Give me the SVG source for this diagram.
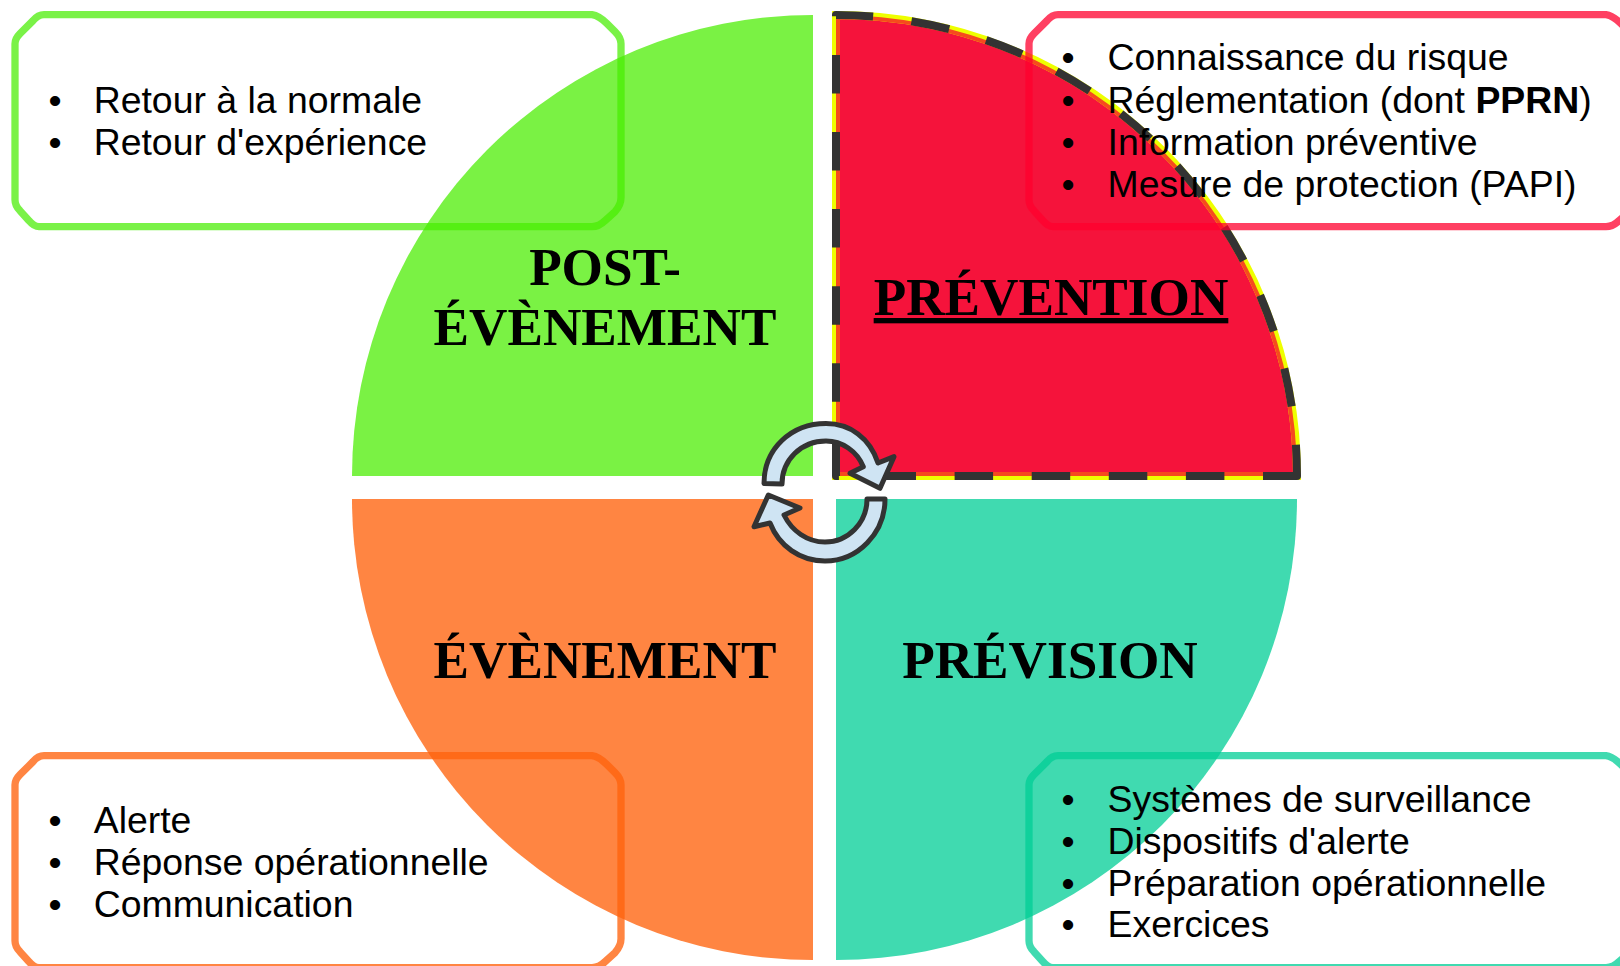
<svg xmlns="http://www.w3.org/2000/svg" width="1620" height="966" viewBox="0 0 1620 966">
<style>
text{font-family:"Liberation Sans",Arial,sans-serif;font-size:37.4px;fill:#000}
.h{font-family:"Liberation Serif","Times New Roman",serif;font-size:53.2px;font-weight:bold;text-anchor:middle}
.box{fill:none;stroke-width:7.3}
.arrow{fill:#cfe4f3;stroke:#333;stroke-width:5;stroke-linejoin:round}
</style>
<defs>
<path id="frame" d="M29,0H577Q584,1 592,9L600,17Q606,23 606,29V183Q606,190 600,197L590,206Q584,212 577,212H24Q19,212 14,206L5,196Q0,191 0,185V29Q0,24 5,19L18,6Q23,0 29,0Z"/>
<path id="redshape" d="M1297,476H836V15A461,461 0 0 1 1297,476Z"/>
<clipPath id="redclip"><use href="#redshape"/></clipPath>
</defs>
<rect width="1620" height="966" fill="#fff"/>
<g id="post-evenement">
<path d="M813,476H352A461,461 0 0 1 813,15Z" fill="#7af244"/>
<use href="#frame" transform="translate(15,14.7)" class="box" stroke="#46ed00" stroke-opacity=".72"/>
<text x="48.5" y="112.7">•</text><text x="93.7" y="112.7">Retour à la normale</text>
<text x="48.5" y="154.7">•</text><text x="93.7" y="154.7">Retour d'expérience</text>
<text class="h" x="605" y="285">POST-</text><text class="h" x="605" y="345">ÉVÈNEMENT</text>
</g>
<g id="prevention">
<use href="#redshape" fill="#f5133b" stroke="#eeff00" stroke-width="8"/>
<use href="#redshape" fill="none" stroke="#f64a1e" stroke-width="8" clip-path="url(#redclip)"/>
<use href="#redshape" fill="none" stroke="#333" stroke-width="8" stroke-dasharray="38.5 38.6" stroke-dashoffset="4.5" stroke-linejoin="round"/>
<use href="#frame" transform="translate(1029,14.7)" class="box" stroke="#ff002d" stroke-opacity=".75"/>
<text x="1061.5" y="69.5">•</text><text x="1107.5" y="69.5">Connaissance du risque</text>
<text x="1061.5" y="112.7">•</text><text x="1107.5" y="112.7">Réglementation (dont <tspan font-weight="bold">PPRN</tspan>)</text>
<text x="1061.5" y="154.7">•</text><text x="1107.5" y="154.7">Information préventive</text>
<text x="1061.5" y="196.5">•</text><text x="1107.5" y="196.5">Mesure de protection (PAPI)</text>
<text class="h" x="1051" y="315" text-decoration="underline">PRÉVENTION</text>
</g>
<g id="evenement">
<path d="M813,499H352A461,461 0 0 0 813,960Z" fill="#ff8542"/>
<use href="#frame" transform="translate(15,755.7)" class="box" stroke="#ff630d" stroke-opacity=".78"/>
<text x="48.5" y="832.7">•</text><text x="93.7" y="832.7">Alerte</text>
<text x="48.5" y="874.5">•</text><text x="93.7" y="874.5">Réponse opérationnelle</text>
<text x="48.5" y="916.7">•</text><text x="93.7" y="916.7">Communication</text>
<text class="h" x="605" y="678">ÉVÈNEMENT</text>
</g>
<g id="prevision">
<path d="M836,499H1297A461,461 0 0 1 836,960Z" fill="#40dab0"/>
<use href="#frame" transform="translate(1029,755.7)" class="box" stroke="#00cd95" stroke-opacity=".75"/>
<text x="1061.5" y="811.7">•</text><text x="1107.5" y="811.7">Systèmes de surveillance</text>
<text x="1061.5" y="853.5">•</text><text x="1107.5" y="853.5">Dispositifs d'alerte</text>
<text x="1061.5" y="895.7">•</text><text x="1107.5" y="895.7">Préparation opérationnelle</text>
<text x="1061.5" y="936.7">•</text><text x="1107.5" y="936.7">Exercices</text>
<text class="h" x="1050" y="678">PRÉVISION</text>
</g>
<g id="connectors">
<path class="arrow" d="M764,483.5C764,449 791,423.5 826,423.5C850,423.5 870,438 878,463L894,456.7L880,488.3L850,473.3L863.3,466.7C857,451 842,441 826,441C801,441 782,460 782,484Z"/>
<path class="arrow" d="M885,499C885,533 858,561 825,561C800,561 779,546 770,523L754,526.7L768.3,495L800,508L784,515C792,531 807,542 825,542C848,542 867,523 867,499Z"/>
</g>
</svg>
